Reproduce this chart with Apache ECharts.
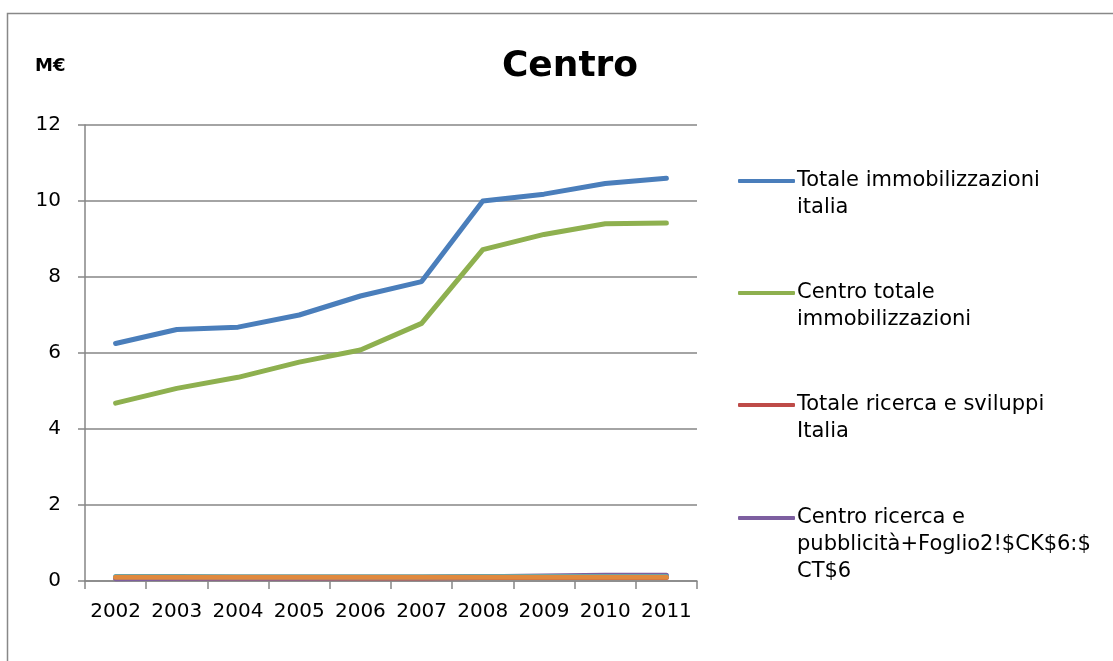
<!DOCTYPE html>
<html><head><meta charset="utf-8">
<script src="https://cdn.jsdelivr.net/npm/echarts@6/dist/echarts.min.js"></script>
<style>html,body{margin:0;padding:0;background:#fff}#c{width:1113px;height:661px}</style>
</head><body><div id="c"></div>
<script>
var years = ['2002','2003','2004','2005','2006','2007','2008','2009','2010','2011'];
var yTicks = [0, 2, 4, 6, 8, 10, 12];
var totaleImmItalia = [6.25, 6.62, 6.68, 7.0, 7.5, 7.88, 10.0, 10.18, 10.46, 10.6];
var centroTotaleImm = [4.68, 5.07, 5.36, 5.76, 6.08, 6.78, 8.72, 9.12, 9.40, 9.42];
var totaleRicercaItalia = [0.08, 0.08, 0.08, 0.08, 0.08, 0.08, 0.09, 0.09, 0.09, 0.09];
var centroRicercaPubb = [0.06, 0.07, 0.08, 0.08, 0.09, 0.09, 0.11, 0.13, 0.15, 0.15];
var serie5 = [0.12, 0.12, 0.11, 0.11, 0.11, 0.11, 0.12, 0.12, 0.12, 0.12];
var serie6 = [0.10, 0.10, 0.10, 0.10, 0.10, 0.10, 0.10, 0.10, 0.10, 0.10];
var names = ['Totale immobilizzazioni italia', 'Centro totale immobilizzazioni', 'Totale ricerca e sviluppi Italia', 'Centro ricerca e pubblicità+Foglio2!$CK$6:$CT$6'];
var legendLabels = ['\nTotale immobilizzazioni\nitalia', '\nCentro totale\nimmobilizzazioni', '\nTotale ricerca e sviluppi\nItalia', '\n\nCentro ricerca e\npubblicità+Foglio2!$CK$6:$\nCT$6'];
var colors = ['#4A7EBB', '#8EB04F', '#BE4B48', '#7D5FA0', '#4BACC6', '#E0893E'];

var font = 'DejaVu Sans';
var chart = echarts.init(document.getElementById('c'));
var legendCenters = [181, 293, 405, 518];
var legends = names.map(function (n, i) {
  var lines = legendLabels[i].split('\n').length;
  return {
    data: [n], left: 738, top: legendCenters[i] - lines * 27 / 2, padding: 0,
    icon: 'roundRect', itemWidth: 57, itemHeight: 4, itemGap: 0,
    selectedMode: false,
    formatter: function () { return legendLabels[i]; },
    textStyle: { fontFamily: font, fontSize: 21, color: '#000', lineHeight: 27, padding: [0, 0, 0, -3] }
  };
});
function mk(name, data, color, z) {
  return { name: name, type: 'line', data: data, symbol: 'none', z: z,
    lineStyle: { color: color, width: 5, cap: 'round', join: 'round' }, itemStyle: { color: color } };
}
chart.setOption({
  animation: false,
  title: { text: 'Centro', left: 565, textAlign: 'center', top: 44,
    textStyle: { fontFamily: font, fontSize: 36, fontWeight: 'bold', color: '#000' } },
  graphic: [
    { type: 'rect', shape: { x: 7.5, y: 13.5, width: 1200, height: 800 }, style: { fill: 'none', stroke: '#888', lineWidth: 1.5 }, silent: true },
    { type: 'text', left: 35, top: 57, style: { text: 'M€', fontFamily: font, fontSize: 18, fontWeight: 'bold', fill: '#000' } }
  ],
  legend: legends,
  grid: { left: 85, right: 416, top: 125, bottom: 80, containLabel: false },
  xAxis: { type: 'category', data: years, boundaryGap: true,
    axisLine: { lineStyle: { color: '#868686', width: 1.5 } },
    axisTick: { show: true, length: 8, inside: false, alignWithLabel: false, lineStyle: { color: '#868686', width: 1.5 } },
    axisLabel: { fontFamily: font, fontSize: 20, color: '#000', margin: 21, interval: 0 } },
  yAxis: { type: 'value', min: 0, max: 12, interval: 2,
    axisLine: { show: true, lineStyle: { color: '#868686', width: 1.5 } },
    axisTick: { show: true, length: 7, lineStyle: { color: '#868686', width: 1.5 } },
    splitLine: { lineStyle: { color: '#868686', width: 1.5 } },
    axisLabel: { fontFamily: font, fontSize: 20, color: '#000', margin: 24,
      formatter: function (v) { return yTicks.indexOf(v) >= 0 ? String(v) : ''; } } },
  series: [
    mk(names[0], totaleImmItalia, colors[0], 2),
    mk(names[1], centroTotaleImm, colors[1], 2),
    mk(names[2], totaleRicercaItalia, colors[2], 2),
    mk(names[3], centroRicercaPubb, colors[3], 3),
    mk('serie5', serie5, colors[4], 4),
    mk('serie6', serie6, colors[5], 5)
  ]
});
</script></body></html>
